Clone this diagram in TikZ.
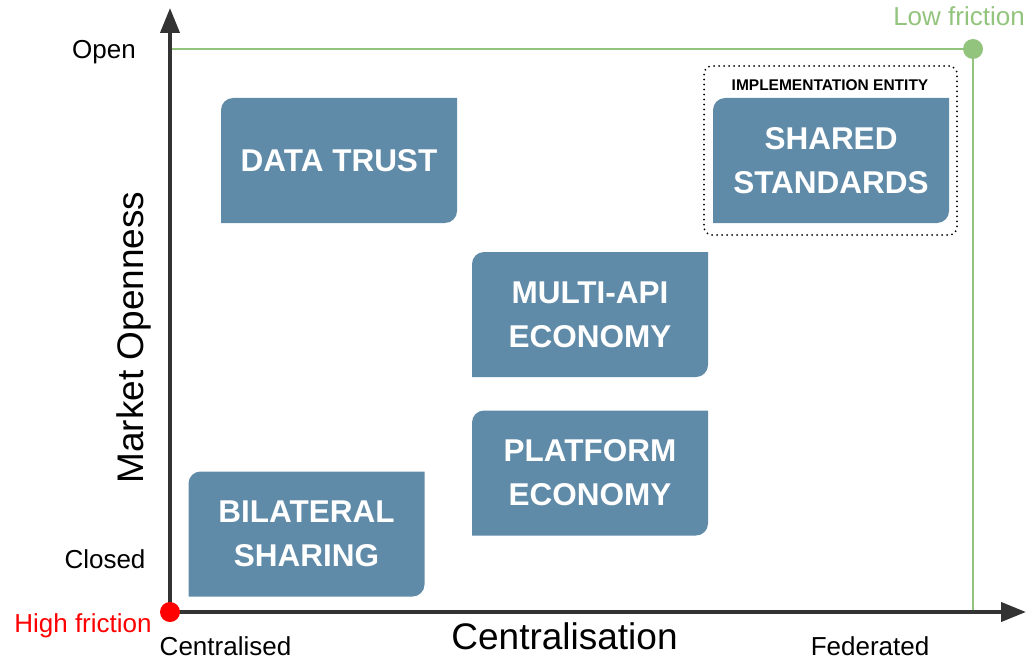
\documentclass[tikz,border=0pt]{standalone}
\usepackage{fontspec}
\setmainfont{Liberation Sans}
\usepackage{tikz}
\usetikzlibrary{arrows.meta,shapes}
\definecolor{boxblue}{HTML}{5F8BA9}
\definecolor{lowgreen}{HTML}{93C47D}
\definecolor{axisgray}{HTML}{333333}
\tikzstyle{ecobox}=[minimum width=236pt,minimum height=125pt,inner sep=0pt,text=white,align=center,
    font=\fontsize{31.5}{44}\selectfont\bfseries,
    path picture={\fill[boxblue] (path picture bounding box.south west)
        -- ([yshift=-12pt]path picture bounding box.north west) arc (180:90:12pt)
        -- (path picture bounding box.north east)
        -- ([yshift=12pt]path picture bounding box.south east) arc (0:-90:12pt) -- cycle;}]
\tikzstyle{axis} = [draw,line width=4pt,axisgray,-{Triangle[length=25pt,width=19pt]}]
\tikzstyle{friction} = [draw,line width=2pt,lowgreen]
\tikzstyle{tick}=[font=\fontsize{26}{30}\selectfont,anchor=base,inner sep=0pt]
\tikzstyle{title}=[font=\fontsize{37}{40}\selectfont,anchor=base,inner sep=0pt]
\tikzstyle{dot}=[circle,minimum size=20pt,inner sep=0pt]

\begin{document}
\begin{tikzpicture}[x=1pt,y=1pt]
    \useasboundingbox (0,0) rectangle (1027,-663);
    % Corners of the chart
    \coordinate (origin) at (170,-612);
    \coordinate (ytip) at (170,-8);
    \coordinate (xtip) at (1026,-612);
    \coordinate (openend) at (170,-49);
    \coordinate (fedend) at (973,-612);
    \node[dot] (lowdot) at (973,-49) {};
    % Low friction border first, then the axes over it
    \path[friction] (openend) -- (lowdot.center) -- (fedend);
    \path[axis] (origin) -- (ytip);
    \path[axis] (origin) -- (xtip);
    \node[dot,fill=lowgreen] at (lowdot) {};
    \node[dot,fill=red] (highdot) at (origin) {};
    % Labels round the axes
    \node[tick] (open) at (104,-59) {Open};
    \node[tick] (closed) at (105,-568) {Closed};
    \node[tick] (central) at (225.5,-655) {Centralised};
    \node[tick] (federated) at (870,-655) {Federated};
    \node[tick,text=red] (high) at (83,-632) {High friction};
    \node[tick,text=lowgreen] (low) at (959,-26) {Low friction};
    \node[title] (xtitle) at (564.5,-649) {Centralisation};
    \node[title,rotate=90] (ytitle) at (143,-337.5) {Market Openness};
    % The implementation entity round the standards
    \node[draw=black,line width=2pt,dash pattern=on 0pt off 5pt,line cap=round,rounded corners=8pt,
        minimum width=253pt,minimum height=169pt] (entity) at (830.5,-150.5) {};
    \node[font=\fontsize{15.5}{18}\selectfont\bfseries,inner sep=0pt] (entitylabel) at (830,-85.5) {IMPLEMENTATION ENTITY};
    % Then the models
    \foreach \pos/\name/\words in {{(339,-160.5)/dt/DATA TRUST}, {(831,-160.5)/ss/SHARED\\STANDARDS},
        {(590,-314.5)/ma/MULTI-API\\ECONOMY}, {(590,-473)/pe/PLATFORM\\ECONOMY},
        {(306.5,-534)/bs/BILATERAL\\SHARING}}
        \node[ecobox] (\name) at \pos {\words};
\end{tikzpicture}
\end{document}
